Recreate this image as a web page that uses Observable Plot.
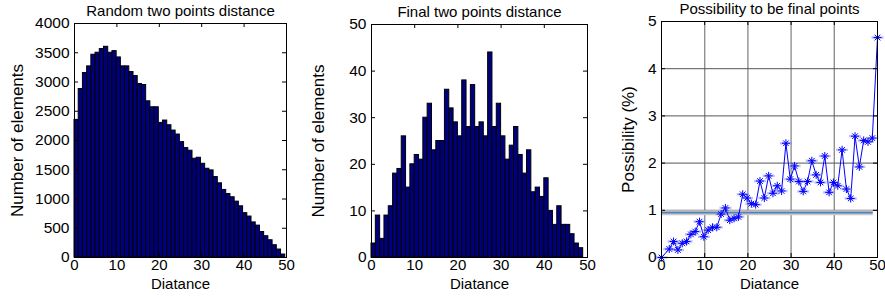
<!DOCTYPE html>
<html><head><meta charset="utf-8">
<script src="https://cdn.jsdelivr.net/npm/d3@7"></script>
<script src="https://cdn.jsdelivr.net/npm/@observablehq/plot@0.6"></script>
<style>
body{margin:0;background:#fff;}
#wrap{position:relative;width:885px;height:296px;overflow:hidden;background:#fff;}
.panel{position:absolute;top:0;}
</style></head><body><div id="wrap"></div>
<script>
// ---- data ----
const randomCounts = [2352, 2880, 3153, 3267, 3466, 3500, 3563, 3602, 3500, 3528,
  3420, 3267, 3267, 3170, 3102, 2966, 2949, 2670, 2568, 2568,
  2301, 2341, 2261, 2170, 2102, 1972, 1870, 1825, 1688, 1705,
  1602, 1517, 1489, 1375, 1268, 1155, 1085, 1030, 955, 875,
  758, 700, 600, 545, 436, 364, 295, 210, 136, 51];
const randomBinWidth = 0.994;
const finalCounts = [3, 9, 4, 9, 11, 18, 19, 26, 15, 20,
  22, 21, 30, 33, 23, 25, 25, 36, 32, 29,
  26, 38, 28, 37, 28, 29, 26, 44, 28, 33,
  26, 21, 24, 28, 22, 18, 23, 14, 15, 13,
  17, 10, 7, 11, 7, 7, 5, 3, 2];
const finalBinWidth = 1;
const possDistance = [0, 1.8, 2.8, 3.8, 4.8, 5.8, 6.8, 7.8, 8.8, 9.8,
  10.8, 11.8, 12.8, 13.8, 14.8, 15.8, 16.8, 17.8, 18.8, 19.8,
  20.8, 21.8, 22.8, 23.8, 24.8, 25.8, 26.8, 27.8, 28.8, 29.8,
  30.8, 31.8, 32.8, 33.8, 34.8, 35.8, 36.8, 37.8, 38.8, 39.8,
  40.8, 41.8, 42.8, 43.8, 44.8, 45.8, 46.8, 47.8, 48.8, 50];
const possValues = [0, 0.18, 0.34, 0.16, 0.30, 0.34, 0.49, 0.55, 0.76, 0.44,
  0.58, 0.64, 0.64, 0.92, 1.05, 0.79, 0.83, 0.86, 1.34, 1.26,
  1.14, 1.12, 1.62, 1.26, 1.73, 1.36, 1.52, 1.41, 2.42, 1.66,
  1.94, 1.61, 1.40, 1.61, 2.05, 1.75, 1.59, 2.15, 1.38, 1.59,
  1.52, 2.28, 1.45, 1.25, 2.57, 1.92, 2.48, 2.45, 2.53, 4.66];
const thresholdValue = 0.95;
const thresholdExtent = [0, 49];
const xTicks = [0, 10, 20, 30, 40, 50];
const randomYTicks = [0, 500, 1000, 1500, 2000, 2500, 3000, 3500, 4000];
const finalYTicks = [0, 10, 20, 30, 40, 50];
const possYTicks = [0, 1, 2, 3, 4, 5];
const possGridX = [10, 20, 30, 40];
const possGridY = [1, 2, 3, 4];
const titles = ["Random two points distance", "Final two points distance", "Possibility to be final points"];
const xLabel = "Diatance";
const yLabels = ["Number of elements", "Number of elements", "Possibility (%)"];

// ---- helpers ----
const FONT = "Liberation Sans, Arial, Helvetica, sans-serif";
function inward(xt, yt, iw, ih, len) {
  return [
    Plot.tickX(xt, {x: d => d, insetTop: ih - len, stroke: "#000"}),
    Plot.tickX(xt, {x: d => d, insetBottom: ih - len, stroke: "#000"}),
    Plot.tickY(yt, {y: d => d, insetRight: iw - len, stroke: "#000"}),
    Plot.tickY(yt, {y: d => d, insetLeft: iw - len, stroke: "#000"})
  ];
}
function panel(left, width, m, yDomain, yTicks, title, yLabel, ylabDx, marks) {
  const H = 296;
  const iw = width - m.l - m.r, ih = H - m.t - m.b;
  const p = Plot.plot({
    width, height: H,
    marginLeft: m.l, marginRight: m.r, marginTop: m.t, marginBottom: m.b,
    style: {fontFamily: FONT, fontSize: "15px", color: "#000", background: "transparent", overflow: "visible"},
    x: {domain: [0, 50]},
    y: {domain: yDomain},
    marks: [
      ...marks,
      Plot.frame({stroke: "#000"}),
      ...inward(xTicks, yTicks, iw, ih, 4),
      Plot.axisX({ticks: xTicks, tickSize: 0, tickPadding: 2, label: null, fontSize: 15, tickFormat: d => String(d)}),
      Plot.axisY({ticks: yTicks, tickSize: 0, tickPadding: 5, label: null, fontSize: 15.5, tickFormat: d => String(d)}),
      Plot.text([title], {frameAnchor: "top", lineAnchor: "bottom", dy: -8, fontSize: 15, letterSpacing: "0.8px"}),
      Plot.text([xLabel], {frameAnchor: "bottom", lineAnchor: "top", dy: 21, fontSize: 15}),
      Plot.text([yLabel], {frameAnchor: "left", textAnchor: "middle", rotate: -90, dx: ylabDx, fontSize: 17})
    ]
  });
  const div = document.createElement("div");
  div.className = "panel";
  div.style.left = left + "px";
  div.appendChild(p);
  document.getElementById("wrap").appendChild(div);
}

const randomTable = randomCounts.map((v, i) => ({x1: i * randomBinWidth, x2: (i + 1) * randomBinWidth, y: v}));
const finalTable = finalCounts.map((v, i) => ({x1: i * finalBinWidth, x2: (i + 1) * finalBinWidth, y: v}));
const possTable = possValues.map((v, i) => ({x: possDistance[i], y: v}));

const asterisk = {draw(ctx, size) {
  const r = Math.sqrt(size / Math.PI), d = r * 0.7071;
  ctx.moveTo(-r, 0); ctx.lineTo(r, 0);
  ctx.moveTo(0, -r); ctx.lineTo(0, r);
  ctx.moveTo(-d, -d); ctx.lineTo(d, d);
  ctx.moveTo(-d, d); ctx.lineTo(d, -d);
}};
const dash = {draw(ctx, size) {
  const r = Math.sqrt(size / Math.PI);
  ctx.moveTo(-r, 0); ctx.lineTo(r, 0);
}};

panel(0, 300, {l: 74, r: 14, t: 23, b: 39}, [0, 4000], randomYTicks, titles[0], yLabels[0], -57, [
  Plot.rectY(randomTable, {x1: "x1", x2: "x2", y: "y", fill: "#00007f", stroke: "#000", strokeWidth: 1})
]);
panel(300, 300, {l: 71, r: 13, t: 24, b: 39}, [0, 50], finalYTicks, titles[1], yLabels[1], -53, [
  Plot.rectY(finalTable, {x1: "x1", x2: "x2", y: "y", fill: "#00007f", stroke: "#000", strokeWidth: 1})
]);
panel(600, 285, {l: 61, r: 8, t: 21, b: 39}, [0, 5], possYTicks, titles[2], yLabels[2], -33, [
  Plot.ruleX(possGridX, {stroke: "#909090", strokeWidth: 1.4}),
  Plot.ruleY(possGridY, {stroke: "#555", strokeWidth: 1}),
  Plot.ruleY([thresholdValue], {x1: thresholdExtent[0], x2: thresholdExtent[1], stroke: "#c8c8c8", strokeWidth: 5}),
  Plot.ruleY([thresholdValue], {x1: thresholdExtent[0], x2: thresholdExtent[1], stroke: "#4f81bd", strokeWidth: 1.6}),
  Plot.line(possTable, {x: "x", y: "y", stroke: "#0000ff", strokeWidth: 1}),
  Plot.dot(possTable, {x: "x", y: "y", symbol: dash, r: 6, stroke: "#7f7fff", strokeOpacity: 0.5, strokeWidth: 2.5, fill: "none"}),
  Plot.dot(possTable, {x: "x", y: "y", symbol: asterisk, r: 4, stroke: "#0000ff", strokeWidth: 1, fill: "none"})
]);
</script></body></html>
